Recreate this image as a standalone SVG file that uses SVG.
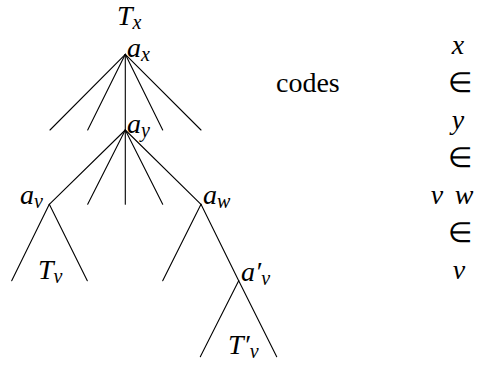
<svg xmlns="http://www.w3.org/2000/svg" width="487" height="365" viewBox="0 0 487 365">
<style>
.e{stroke:#000;stroke-width:1.1;fill:none;stroke-linecap:round}
.t{font-family:'Liberation Serif','Times New Roman',serif;font-size:28px;fill:#000}
.m{font-style:italic}
.s{font-size:20px}
</style>
<rect width="487" height="365" fill="#fff"/>
<g id="connectors">
<line class="e" x1="125.3" y1="54.3" x2="50" y2="130"/>
<line class="e" x1="125.3" y1="54.3" x2="87.7" y2="130"/>
<line class="e" x1="125.3" y1="54.3" x2="125.3" y2="130"/>
<line class="e" x1="125.3" y1="54.3" x2="162.7" y2="130"/>
<line class="e" x1="125.3" y1="54.3" x2="201" y2="130"/>
<line class="e" x1="125.3" y1="130" x2="49.3" y2="204.3"/>
<line class="e" x1="125.3" y1="130" x2="87.7" y2="204.3"/>
<line class="e" x1="125.3" y1="130" x2="125.3" y2="204.3"/>
<line class="e" x1="125.3" y1="130" x2="162.7" y2="204.3"/>
<line class="e" x1="125.3" y1="130" x2="201" y2="204.3"/>
<line class="e" x1="49.3" y1="204.3" x2="11.7" y2="280.7"/>
<line class="e" x1="49.3" y1="204.3" x2="87.3" y2="280.7"/>
<line class="e" x1="201" y1="204.3" x2="162.7" y2="280.7"/>
<line class="e" x1="201" y1="204.3" x2="238.7" y2="280.7"/>
<line class="e" x1="238.7" y1="280.7" x2="200.3" y2="356.7"/>
<line class="e" x1="238.7" y1="280.7" x2="276.7" y2="356.7"/>
</g>
<g id="Tx"><text class="t m" x="117" y="25">T<tspan class="s" dy="4">x</tspan></text></g>
<g id="ax"><text class="t m" x="127" y="57">a<tspan class="s" dy="4">x</tspan></text></g>
<g id="ay"><text class="t m" x="127" y="133">a<tspan class="s" dy="4">y</tspan></text></g>
<g id="av"><text class="t m" x="20" y="204">a<tspan class="s" dy="4">v</tspan></text></g>
<g id="aw"><text class="t m" x="203" y="204">a<tspan class="s" dy="4">w</tspan></text></g>
<g id="av2"><text class="t m" x="241" y="281">a′<tspan class="s" dy="4">v</tspan></text></g>
<g id="Tv"><text class="t m" x="38" y="279">T<tspan class="s" dy="4">v</tspan></text></g>
<g id="Tv2"><text class="t m" x="228" y="354">T′<tspan class="s" dy="4">v</tspan></text></g>
<g id="codes">
<text class="t" x="276" y="92">codes</text>
<text class="t m" x="458" y="54" text-anchor="middle">x</text>
<text class="t" x="460" y="92" text-anchor="middle">∈</text>
<text class="t m" x="458" y="129" text-anchor="middle">y</text>
<text class="t" x="460" y="167" text-anchor="middle">∈</text>
<text class="t m" x="437" y="204" text-anchor="middle">v</text>
<text class="t m" x="464" y="204" text-anchor="middle">w</text>
<text class="t" x="460" y="242" text-anchor="middle">∈</text>
<text class="t m" x="459" y="279" text-anchor="middle">v</text>
</g>
</svg>
